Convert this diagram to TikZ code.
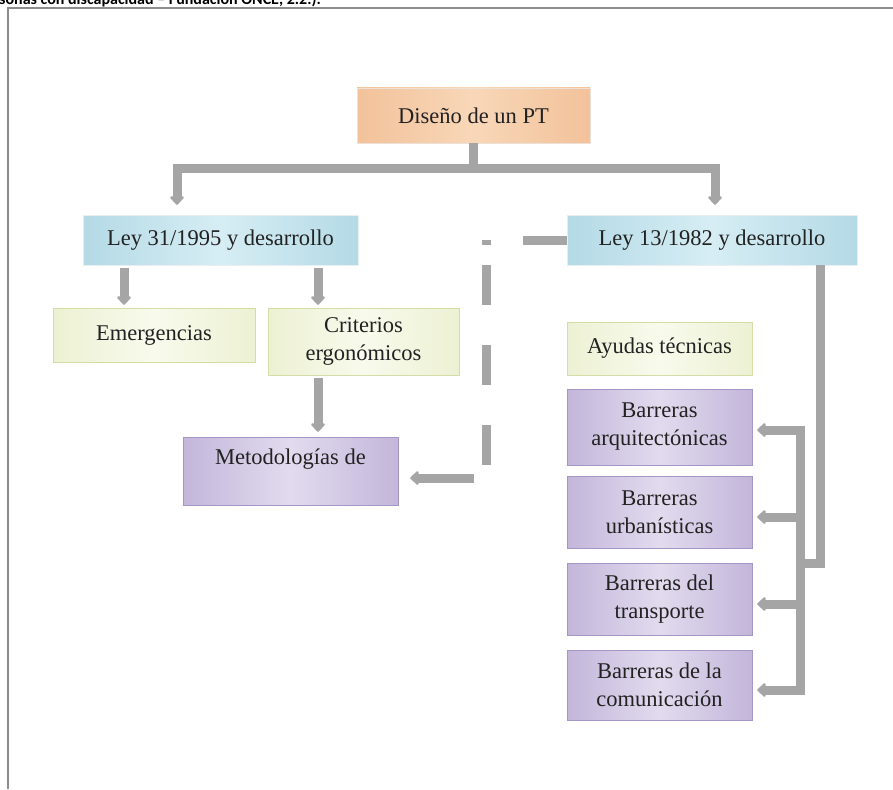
\documentclass[tikz,border=0pt]{standalone}
\usepackage{fontspec}
\setmainfont{Liberation Serif}
\newfontfamily\capfont{Carlito}
\usetikzlibrary{arrows.meta,calc}
\definecolor{conngray}{HTML}{A5A5A5}
\definecolor{framegray}{HTML}{8C8C8C}
\definecolor{orA}{HTML}{F2C29A}
\definecolor{orB}{HTML}{F8D7B8}
\definecolor{blA}{HTML}{B4DAE6}
\definecolor{blB}{HTML}{D6EDF4}
\definecolor{grA}{HTML}{EDF1D3}
\definecolor{grB}{HTML}{F8FAEC}
\definecolor{grE}{HTML}{D5DCA8}
\definecolor{puA}{HTML}{C3B6DA}
\definecolor{puB}{HTML}{E2DBEE}
\definecolor{puE}{HTML}{A496C6}
\definecolor{txt}{HTML}{222222}
\tikzset{
  box/.style={rectangle, inner sep=2pt, align=center, text=txt,
    font=\fontsize{22.5}{28}\selectfont},
  orbox/.style={box, left color=orA, right color=orA, middle color=orB, draw=orA!80!black!30},
  blbox/.style={box, left color=blA, right color=blA, middle color=blB, draw=blA!80!black!20},
  grbox/.style={box, left color=grA, right color=grA, middle color=grB, draw=grE},
  pubox/.style={box, left color=puA, right color=puA, middle color=puB, draw=puE},
  conn/.style={draw=conngray, line width=9pt},
  arr/.style={conn, -{Triangle[width=16pt,length=9pt,round]}},
  arrtwo/.style={conn, {Triangle[width=16pt,length=9pt,round]}-{Triangle[width=16pt,length=9pt,round]}},
  dashconn/.style={arr, dash pattern=on 44pt off 37pt on 5pt off 20pt on 40pt off 40pt on 40pt off 40pt on 40pt off 25pt on 120pt},
  framel/.style={draw=framegray, line width=1.5pt}
}
\begin{document}
\begin{tikzpicture}[x=1pt,y=-1pt]
\useasboundingbox (0,0) rectangle (893,789);
\begin{scope}
\clip (0,0) rectangle (893,789);
\node[anchor=base west, inner sep=0pt, font=\capfont\bfseries\fontsize{16}{18}\selectfont] (cap) at (-1,5) {sonas con discapacidad – Fundación ONCE, 2.2.).};
\end{scope}
\coordinate (fr1) at (893,8);
\coordinate (fr2) at (8,8);
\coordinate (fr3) at (8,789);
\draw[framel] (fr1) -- (fr2) -- (fr3);

% boxes
\node[orbox, minimum width=233pt, minimum height=55pt] (dis) at (473.5,115.5) {Diseño de un PT};
\node[blbox, minimum width=275pt, minimum height=50pt] (ley31) at (220.5,240) {Ley 31/1995 y desarrollo};
\node[blbox, minimum width=290pt, minimum height=50pt] (ley13) at (712,240) {Ley 13/1982 y desarrollo};
\node[grbox, minimum width=202pt, minimum height=54pt] (emer) at (154,335) {Emergencias};
\node[grbox, minimum width=191pt, minimum height=67pt] (crit) at (363.5,341.5) {Criterios\\ergonómicos};
\node[pubox, minimum width=215pt, minimum height=68pt] (meto) at (290.5,471) {Metodologías de\\\phantom{x}};
\node[grbox, minimum width=185pt, minimum height=53pt] (ayu) at (659.5,348.5) {Ayudas técnicas};
\node[pubox, minimum width=185pt, minimum height=76pt] (arq) at (659.5,427) {Barreras\\arquitectónicas};
\node[pubox, minimum width=185pt, minimum height=72pt] (urb) at (659.5,512) {Barreras\\urbanísticas};
\node[pubox, minimum width=185pt, minimum height=72pt] (tra) at (659.5,599) {Barreras del\\transporte};
\node[pubox, minimum width=185pt, minimum height=70pt] (com) at (659.5,685) {Barreras de la\\comunicación};

% top connector
\coordinate (bar) at (0,168);
\draw[arr, shorten >=10pt] (dis.south) -- (dis.south |- bar) -| ([xshift=-43.5pt]ley31.north);
\draw[arr, shorten >=10pt] (dis.south |- bar) -| ([xshift=3pt]ley13.north);

% Ley 31 children
\draw[arr, shorten <=3pt, shorten >=3pt] ([xshift=-96.5pt]ley31.south) -- ([xshift=-30pt]emer.north);
\draw[arr, shorten <=3pt, shorten >=3pt] ([xshift=97.5pt]ley31.south) -- ([xshift=-45.5pt]crit.north);
\draw[arr, shorten <=3pt, shorten >=5pt] ([xshift=-45.5pt]crit.south) -- ([xshift=27.5pt]meto.north);

% dashed connector
\coordinate (dj1) at (486,240);
\coordinate (dj2) at (486,478);
\draw[dashconn, shorten >=12pt] (ley13.west) -- (dj1) -- (dj2) -- ([yshift=-7pt]meto.east);

% right bracket
\coordinate (bk) at (800,563);
\coordinate (bt) at (800,430);
\coordinate (bb) at (800,690);
\draw[conn] ([xshift=108pt]ley13.south) |- (bk);
\draw[arrtwo, shorten <=5pt, shorten >=5pt] ([yshift=-3pt]arq.east) -- (bt) -- (bb) -- ([yshift=-5pt]com.east);
\draw[arr, shorten >=5pt] (bt |- 0,517) -- ([yshift=-5pt]urb.east);
\draw[arr, shorten >=5pt] (bt |- 0,604) -- ([yshift=-5pt]tra.east);
\end{tikzpicture}
\end{document}
